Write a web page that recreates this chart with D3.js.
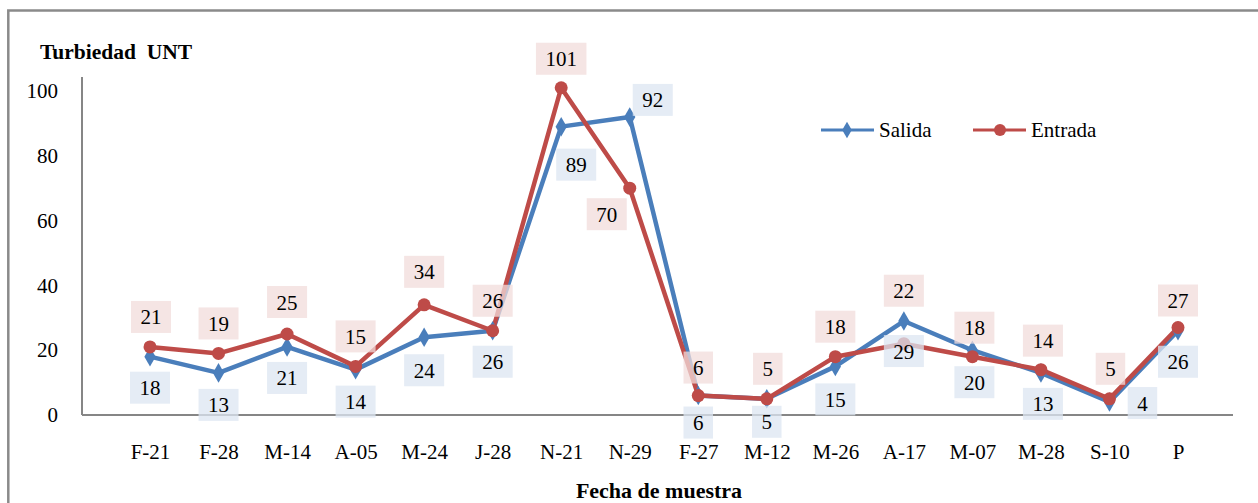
<!DOCTYPE html>
<html>
<head>
<meta charset="utf-8">
<script src="https://cdn.jsdelivr.net/npm/d3@7/dist/d3.min.js"></script>
<style>
  html, body { margin: 0; padding: 0; background: #fff; }
  svg { display: block; }
  text { font-family: "Liberation Serif", "Times New Roman", serif; fill: #000; }
</style>
</head>
<body>
<svg id="chart" width="1258" height="503"></svg>
<script>
// Sampling dates (x categories)
const fechas = ["F-21", "F-28", "M-14", "A-05", "M-24", "J-28", "N-21", "N-29",
                "F-27", "M-12", "M-26", "A-17", "M-07", "M-28", "S-10", "P"];

// Turbidity (UNT) per series
const salida  = [18, 13, 21, 14, 24, 26, 89, 92, 6, 5, 15, 29, 20, 13, 4, 26];
const entrada = [21, 19, 25, 15, 34, 26, 101, 70, 6, 5, 18, 22, 18, 14, 5, 27];

// Y axis tick values
const yTicks = [0, 20, 40, 60, 80, 100];

// Label offsets (px) from each marker, per series
const salidaLabelOff = [
  [0, 31], [0, 32], [0, 31], [0, 32], [0, 33], [0, 31], [15, 38], [23, -17],
  [0, 27], [0, 23], [0, 33], [0, 30], [2, 32], [2, 31], [33, 1], [0, 31]
];
const entradaLabelOff = [
  [1, -30], [0, -30], [0, -32], [0, -30], [0, -33], [0, -30], [0, -29], [-23, 26],
  [0, -28], [1, -30], [0, -30], [0, -53], [2, -29], [2, -29], [1, -30], [0, -27]
];

const BLUE = "#4a7ebb", RED = "#be4b48";

const svg = d3.select("#chart");

// outer chart frame
svg.append("rect")
  .attr("x", 8.3).attr("y", 10.5).attr("width", 1300).attr("height", 600)
  .attr("fill", "#fff").attr("stroke", "#8a8a8a").attr("stroke-width", 2.5);

const x = d3.scalePoint().domain(fechas).range([150, 1178]);
const y = d3.scaleLinear().domain([0, 100]).range([415, 91]);

// axis lines
svg.append("line").attr("x1", 82).attr("x2", 82).attr("y1", 77).attr("y2", 415)
  .attr("stroke", "#868686").attr("stroke-width", 2);
svg.append("line").attr("x1", 82).attr("x2", 1233).attr("y1", 415).attr("y2", 415)
  .attr("stroke", "#868686").attr("stroke-width", 2);

// y axis labels
const gy = svg.append("g").attr("transform", "translate(82,0)")
  .call(d3.axisLeft(y).tickValues(yTicks).tickSize(0).tickPadding(24).tickFormat(d3.format("d")));
gy.select(".domain").remove();
gy.selectAll("text").attr("font-size", 21).attr("font-family", "Liberation Serif").attr("fill", "#000");

// x axis labels
const gx = svg.append("g").attr("transform", "translate(0,415)")
  .call(d3.axisBottom(x).tickSize(0).tickPadding(29));
gx.select(".domain").remove();
gx.selectAll("text").attr("font-size", 21).attr("font-family", "Liberation Serif").attr("fill", "#000");

// axis titles
svg.append("text").attr("x", 40).attr("y", 59)
  .attr("font-size", 21.5).attr("font-weight", "bold").style("white-space", "pre")
  .text("Turbiedad  UNT");
svg.append("text").attr("x", 659).attr("y", 498).attr("text-anchor", "middle")
  .attr("font-size", 22).attr("font-weight", "bold")
  .text("Fecha de muestra");

const line = d3.line().x((d, i) => x(fechas[i])).y(d => y(d));

// series lines
svg.append("path").datum(salida).attr("d", line)
  .attr("fill", "none").attr("stroke", BLUE).attr("stroke-width", 4.5).attr("stroke-linejoin", "round");
svg.append("path").datum(entrada).attr("d", line)
  .attr("fill", "none").attr("stroke", RED).attr("stroke-width", 4.5).attr("stroke-linejoin", "round");

// markers
const diamond = d3.symbol().type(d3.symbolDiamond).size(110);
svg.append("g").selectAll("path").data(salida).join("path")
  .attr("d", diamond)
  .attr("transform", (d, i) => `translate(${x(fechas[i])},${y(d)})`)
  .attr("fill", BLUE);
svg.append("g").selectAll("circle").data(entrada).join("circle")
  .attr("cx", (d, i) => x(fechas[i])).attr("cy", d => y(d)).attr("r", 6.5)
  .attr("fill", RED);

// data labels
function drawLabels(values, offsets, fill) {
  const g = svg.append("g");
  values.forEach((v, i) => {
    const cx = x(fechas[i]) + offsets[i][0];
    const cy = y(v) + offsets[i][1];
    const w = String(v).length * 10.5 + 19;
    g.append("rect").attr("x", cx - w / 2).attr("y", cy - 16).attr("width", w).attr("height", 32)
      .attr("fill", fill).attr("opacity", 0.75);
    g.append("text").attr("x", cx).attr("y", cy + 7.5).attr("text-anchor", "middle")
      .attr("font-size", 21).text(v);
  });
}
drawLabels(salida, salidaLabelOff, "#dce6f2");
drawLabels(entrada, entradaLabelOff, "#f2dcdb");

// legend
const legend = [
  { name: "Salida", color: BLUE, x0: 821, marker: "diamond" },
  { name: "Entrada", color: RED, x0: 973, marker: "circle" }
];
legend.forEach(l => {
  const g = svg.append("g");
  g.append("line").attr("x1", l.x0).attr("x2", l.x0 + 53).attr("y1", 130).attr("y2", 130)
    .attr("stroke", l.color).attr("stroke-width", 3);
  if (l.marker === "diamond") {
    g.append("path").attr("d", d3.symbol().type(d3.symbolDiamond).size(80)())
      .attr("transform", `translate(${l.x0 + 26},130)`).attr("fill", l.color);
  } else {
    g.append("circle").attr("cx", l.x0 + 27).attr("cy", 130).attr("r", 6).attr("fill", l.color);
  }
  g.append("text").attr("x", l.x0 + 58).attr("y", 137).attr("font-size", 21).text(l.name);
});
</script>
</body>
</html>
